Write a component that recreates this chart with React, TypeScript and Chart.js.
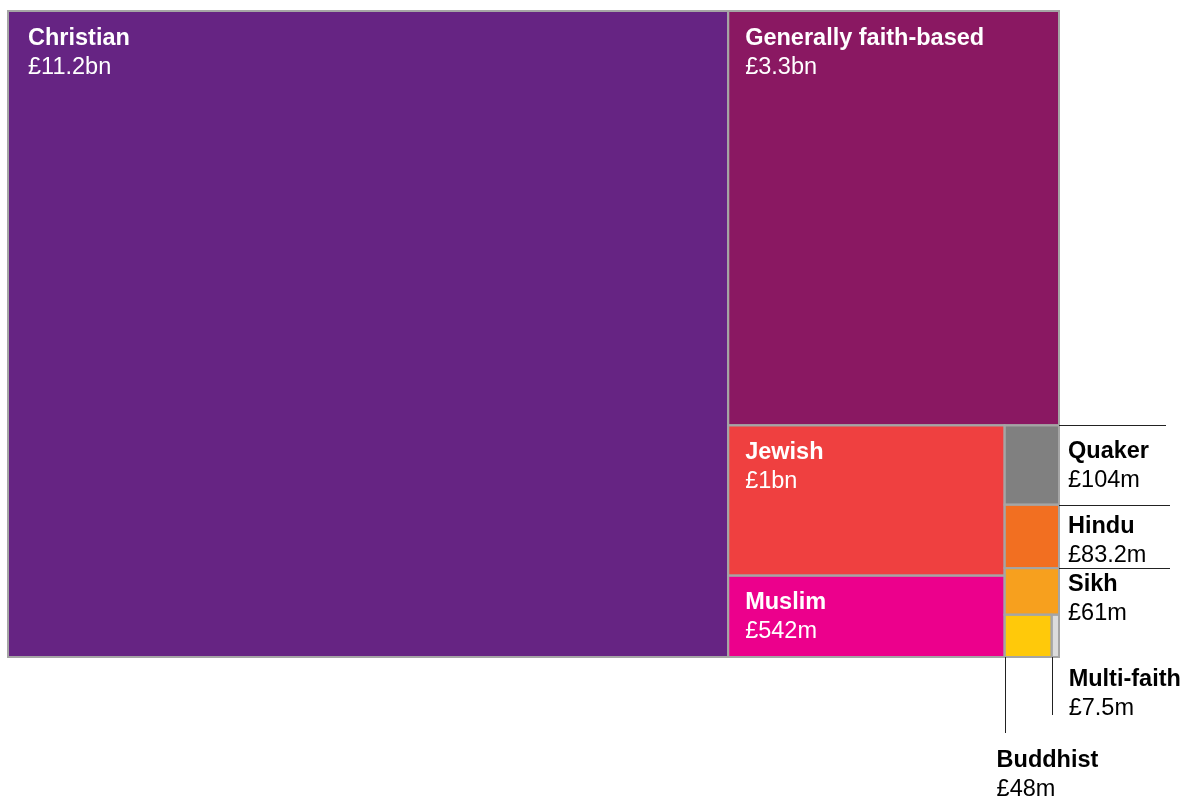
import React, { useEffect, useRef } from "react";
import { Chart, registerables } from "chart.js";

Chart.register(...registerables);

// ---- data (values in £m) ----
const categories = [
  "Christian",
  "Generally faith-based",
  "Jewish",
  "Muslim",
  "Quaker",
  "Hindu",
  "Sikh",
  "Buddhist",
  "Multi-faith",
];
const values = [11200, 3300, 1000, 542, 104, 83.2, 61, 48, 7.5];
const valueLabels = ["£11.2bn", "£3.3bn", "£1bn", "£542m", "£104m", "£83.2m", "£61m", "£48m", "£7.5m"];

// ---- styles ----
const colors = ["#662483", "#8a1862", "#ef4040", "#ec008c", "#808080", "#f26f21", "#f7a01e", "#ffc90a", "#dcdcdc"];
// treemap nesting: 'h' = side by side, 'v' = stacked
const structure: any = ["h", 0, ["v", 1, ["h", ["v", 2, 3], ["v", 4, 5, 6, ["h", 7, 8]]]]];
// label placement per category
const placement: any[] = [
  { kind: "inside", dx: 20 },
  { kind: "inside", dx: 17 },
  { kind: "inside", dx: 17 },
  { kind: "inside", dx: 17 },
  { kind: "right", dy: 33, lineLen: 107 },
  { kind: "right", dy: 28, lineLen: 111 },
  { kind: "right", dy: 23, lineLen: 111 },
  { kind: "below", lineLen: 76, dx: -8, dy: 110 },
  { kind: "below", lineLen: 58, dx: 17, dy: 29 },
];
const FONT = "'Liberation Sans', Arial, sans-serif";

function sumOf(node: any): number {
  if (typeof node === "number") return values[node];
  return node.slice(1).reduce((s: number, k: any) => s + sumOf(k), 0);
}

function layout(node: any, x0: number, y0: number, x1: number, y1: number, out: any[]) {
  if (typeof node === "number") {
    out[node] = { x0, y0, x1, y1 };
    return;
  }
  const [dir, ...kids] = node;
  const total = kids.reduce((s: number, k: any) => s + sumOf(k), 0);
  let pos = dir === "h" ? x0 : y0;
  kids.forEach((k: any) => {
    const f = sumOf(k) / total;
    if (dir === "h") {
      const w = (x1 - x0) * f;
      layout(k, pos, y0, pos + w, y1, out);
      pos += w;
    } else {
      const h = (y1 - y0) * f;
      layout(k, x0, pos, x1, pos + h, out);
      pos += h;
    }
  });
}

const cells: any[] = [];
layout(structure, 0, 0, 1, 1, cells);

const treemapPlugin = {
  id: "treemapCells",
  afterDatasetsDraw(chart: any) {
    const { ctx, scales } = chart;
    const xs = scales.x;
    const ys = scales.y;
    ctx.save();
    const px = cells.map((c) => ({
      l: xs.getPixelForValue(c.x0),
      r: xs.getPixelForValue(c.x1),
      t: ys.getPixelForValue(c.y0),
      b: ys.getPixelForValue(c.y1),
    }));
    px.forEach((p, i) => {
      ctx.fillStyle = colors[i];
      ctx.fillRect(p.l, p.t, p.r - p.l, p.b - p.t);
    });
    ctx.strokeStyle = "#a5a5a5";
    ctx.lineWidth = 2;
    px.forEach((p) => {
      ctx.strokeRect(p.l, p.t, p.r - p.l, p.b - p.t);
    });
    // labels
    ctx.textBaseline = "alphabetic";
    ctx.textAlign = "left";
    px.forEach((p, i) => {
      const pl = placement[i];
      let x = 0;
      let y = 0;
      let col = "#000";
      if (pl.kind === "inside") {
        x = p.l + pl.dx;
        y = p.t + 33.5;
        col = "#ffffff";
      } else if (pl.kind === "right") {
        ctx.strokeStyle = "#222";
        ctx.lineWidth = 1;
        ctx.beginPath();
        ctx.moveTo(p.r, Math.round(p.t) + 0.5);
        ctx.lineTo(p.r + pl.lineLen, Math.round(p.t) + 0.5);
        ctx.stroke();
        x = p.r + 9;
        y = p.t + pl.dy;
      } else {
        ctx.strokeStyle = "#222";
        ctx.lineWidth = 1;
        ctx.beginPath();
        ctx.moveTo(Math.round(p.l) + 0.5, p.b);
        ctx.lineTo(Math.round(p.l) + 0.5, p.b + pl.lineLen);
        ctx.stroke();
        x = p.l + pl.dx;
        y = p.b + pl.dy;
      }
      ctx.fillStyle = col;
      ctx.font = `bold 23.5px ${FONT}`;
      ctx.fillText(categories[i], x, y);
      ctx.font = `23.5px ${FONT}`;
      ctx.fillText(valueLabels[i], x, y + 29);
    });
    ctx.restore();
  },
};

export default function App() {
  const ref = useRef<HTMLCanvasElement | null>(null);
  useEffect(() => {
    if (!ref.current) return;
    const chart = new Chart(ref.current, {
      type: "scatter",
      data: {
        datasets: [
          {
            label: "Faith-based charity income",
            data: cells.map((c) => ({ x: (c.x0 + c.x1) / 2, y: (c.y0 + c.y1) / 2 })),
            pointRadius: 0,
            pointHoverRadius: 0,
          },
        ],
      },
      options: {
        animation: false,
        responsive: false,
        layout: { padding: { left: 8, top: 11, right: 125, bottom: 141 } },
        plugins: { legend: { display: false }, tooltip: { enabled: false } },
        scales: {
          x: { type: "linear", min: 0, max: 1, display: false },
          y: { type: "linear", min: 0, max: 1, reverse: true, display: false },
        },
      },
      plugins: [treemapPlugin],
    });
    return () => chart.destroy();
  }, []);
  return (
    <div style={{ position: "fixed", left: 0, top: 0, width: 1184, height: 798, background: "#fff" }}>
      <canvas ref={ref} width={1184} height={798} style={{ display: "block" }} />
    </div>
  );
}
